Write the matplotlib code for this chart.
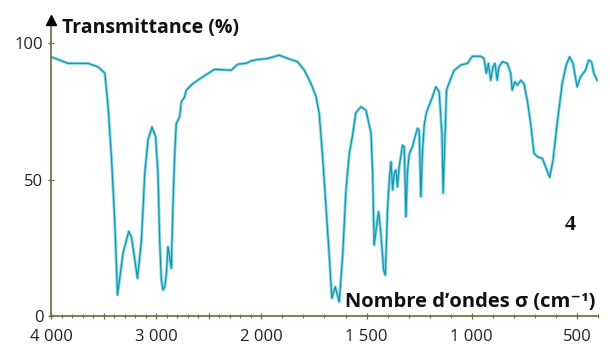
import numpy as np
import matplotlib
matplotlib.use("Agg")
import matplotlib.pyplot as plt
from matplotlib.ticker import FixedLocator, FixedFormatter

# ---- data ----
sigma = [4000, 3836, 3646, 3552, 3488, 3457, 3425, 3393, 3368, 3315, 3261, 3235,
         3178, 3140, 3109, 3078, 3040, 3005, 2983, 2967, 2951, 2935, 2919, 2903,
         2888, 2872, 2856, 2841, 2825, 2809, 2777, 2761, 2730, 2714, 2651, 2556,
         2445, 2287, 2225, 2145, 2098, 2035, 1970, 1915, 1875, 1828, 1796, 1764,
         1740, 1725, 1709, 1693, 1677, 1665, 1649, 1630, 1614, 1598, 1582, 1567,
         1551, 1527, 1503, 1479, 1471, 1464, 1453, 1443, 1432, 1419, 1411, 1400,
         1392, 1384, 1376, 1369, 1361, 1353, 1345, 1329, 1321, 1313, 1306, 1298,
         1290, 1282, 1274, 1258, 1250, 1242, 1234, 1226, 1215, 1202, 1187, 1171,
         1155, 1142, 1136, 1128, 1120, 1100, 1084, 1052, 1021, 997, 957, 942,
         931, 921, 910, 899, 890, 879, 871, 855, 831, 815, 808, 795, 783, 767,
         752, 736, 720, 704, 688, 665, 649, 630, 614, 594, 570, 551, 535, 519,
         499, 483, 460, 444, 431, 420, 404]
transmittance = [95, 92.6, 92.6, 91.3, 89, 76.7, 58, 34, 7.7, 23, 31, 29,
                 13.8, 27.8, 52, 64.5, 69.3, 65.7, 52, 27.8, 13.2, 9.5, 10.7, 15.6,
                 25.4, 21.7, 17.5, 40, 58.4, 70.6, 73, 78.5, 80.3, 82.8, 85.2, 87.7,
                 90.4, 90.1, 92.3, 92.6, 93.5, 94, 94.4, 95.6, 94.4, 93.2, 90.1, 85.2,
                 80.3, 74.2, 58.4, 40, 21.7, 6.5, 10.7, 5.2, 21.7, 46, 59.6, 66,
                 74.5, 76.7, 75.5, 67, 52, 26, 32.7, 38.2, 30.3, 16.8, 15, 40,
                 49.8, 56.5, 46.2, 52.3, 53.5, 47.4, 54.7, 62.6, 62, 36.4, 52.3, 59,
                 60.8, 62, 64.5, 68.8, 68, 43.7, 60.8, 70, 74.8, 77.3, 80.3, 84,
                 82.2, 67, 45, 64.5, 82.8, 87, 90, 92, 92.6, 95.2, 95.2, 94.4,
                 89, 92.6, 86.4, 91.3, 92.6, 86.4, 91.3, 93.2, 92.6, 89, 82.8, 85.8, 84.6, 86.4,
                 85.2, 79, 70.6, 59.6, 58.4, 57.8, 54.7, 50.8, 57, 70.6, 85.2, 92, 95, 92.6,
                 84, 87.7, 90, 93.8, 93.2, 89, 86.4]

x_major = [4000, 3500, 3000, 2500, 2000, 1500, 1000, 500]
x_major_labels = ["4 000", "", "3 000", "", "2 000", "1 500", "1 000", "500"]
x_minor = list(range(400, 4001, 100))
y_ticks = [0, 50, 100]
y_labels = ["0", "50", "100"]

# ---- figure ----
W, H = 610, 347
fig = plt.figure(figsize=(W / 100, H / 100), dpi=100)
left, right, bottom, top = 51, 598, 316, 20
ax = fig.add_axes([left / W, (H - bottom) / H, (right - left) / W, (bottom - top) / H])


def fwd(s):
    s = np.asarray(s, dtype=float)
    return np.where(s <= 2000, 2 * s, s + 2000)


def inv(u):
    u = np.asarray(u, dtype=float)
    return np.where(u <= 4000, u / 2, u - 2000)


ax.set_xscale("function", functions=(fwd, inv))
ax.set_xlim(4000, 400)
ax.set_ylim(0, 108.5)

line_light = "#8ad9e6"
line_dark = "#1795ae"
ax.plot(sigma, transmittance, color=line_light, lw=2.2, solid_joinstyle="round", zorder=2)
ax.plot(sigma, transmittance, color=line_dark, lw=0.9, solid_joinstyle="round", zorder=3)

spine_col = "#6f6a3e"
for s in ["top", "right"]:
    ax.spines[s].set_visible(False)
for s in ["left", "bottom"]:
    ax.spines[s].set_color(spine_col)
    ax.spines[s].set_linewidth(1.2)

ax.xaxis.set_major_locator(FixedLocator(x_major))
ax.xaxis.set_major_formatter(FixedFormatter(x_major_labels))
ax.xaxis.set_minor_locator(FixedLocator(x_minor))
ax.yaxis.set_major_locator(FixedLocator(y_ticks))
ax.yaxis.set_major_formatter(FixedFormatter(y_labels))

tick_font = "Open Sans"
ax.tick_params(axis="both", which="major", direction="inout", length=5, width=0.9,
               color=spine_col, labelsize=12, labelcolor="#222222")
ax.tick_params(axis="both", which="minor", direction="inout", length=3, width=0.7,
               color=spine_col)
ax.tick_params(axis="x", which="major", pad=7)
ax.tick_params(axis="y", which="major", pad=3)
for lab in ax.get_xticklabels() + ax.get_yticklabels():
    lab.set_family(tick_font)

# arrow at the top of the y axis
ax.plot([0], [1], marker="^", markersize=7, color="black", transform=ax.transAxes,
        clip_on=False, zorder=5)

lab_fam = ["Open Sans", "DejaVu Sans"]
fig.text(62 / W, (H - 33) / H, "Transmittance (%)", fontsize=14, fontweight="bold",
         family=lab_fam, color="#111111", va="baseline", ha="left")
fig.text(345 / W, (H - 307) / H, "Nombre d\u2019ondes \u03c3 (cm\u207b\u00b9)", fontsize=14.5,
         fontweight="bold", family=lab_fam, color="#111111",
         va="baseline", ha="left")
fig.text(565 / W, (H - 230) / H, "4", fontsize=16, fontweight="bold",
         family=["Liberation Serif", "DejaVu Serif"], color="#111111", va="baseline", ha="left")

fig.savefig("out.png", dpi=100)
